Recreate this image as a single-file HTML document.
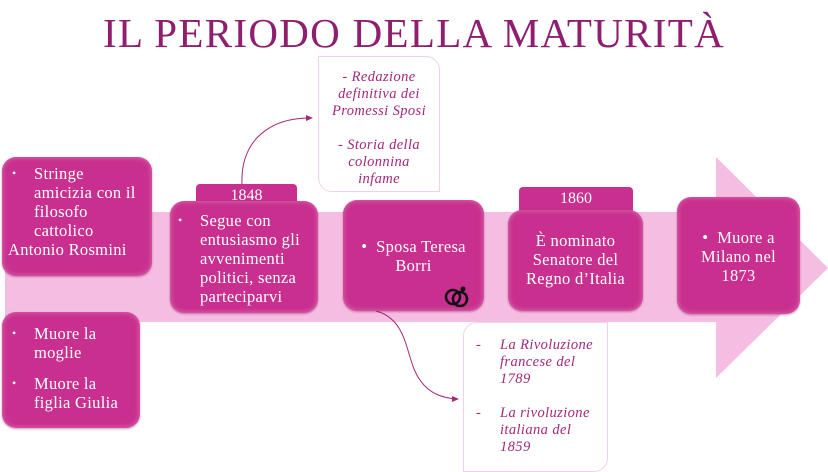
<!DOCTYPE html>
<html><head><meta charset="utf-8"><style>
body{margin:0;width:828px;height:466px;background:#fff;position:relative;overflow:hidden;font-family:"Liberation Serif",serif}
.t{position:absolute;left:0;width:828px;top:9px;text-align:center;font-size:41px;color:#8f1f6e;letter-spacing:1.3px}
.b{position:absolute;background:#c82f8e;border-radius:14px;color:#fff;font-size:16.5px;line-height:19px;letter-spacing:0.3px;white-space:nowrap;box-shadow:inset 0 0 6px rgba(255,255,255,.35),0 1px 2px rgba(120,0,70,.4)}
.tab{position:absolute;background:#c82f8e;border-radius:4px 4px 0 0;color:#fff;font-size:16px;text-align:center;line-height:24px}
.c{position:absolute;border:1px solid #f2d3e6;color:#a3287a;font-style:italic;font-size:14.5px;line-height:17px;letter-spacing:0.4px;background:#fff;white-space:nowrap}
ul{margin:0;padding:0;list-style:none}
li{position:relative;padding-left:22px}
li:before{content:"•";position:absolute;left:6px;font-size:12px}
</style></head><body>
<svg width="828" height="466" style="position:absolute;left:0;top:0">
<polygon points="5,212 716,212 716,157 828,268 716,378 716,322 5,322" fill="#f6bde2"/>
<path d="M242,185 C240,140 270,118 310,118" fill="none" stroke="#a3287a" stroke-width="1"/>
<polygon points="313,118 306,115 306,121" fill="#a3287a"/>
<path d="M376,311 C410,320 405,360 420,380 C430,395 445,398 456,399" fill="none" stroke="#a3287a" stroke-width="1"/>
<polygon points="459,399 452,396 452,402" fill="#a3287a"/>
</svg>
<div class="t">IL PERIODO DELLA MATURITÀ</div>
<div class="c" style="left:318px;top:56px;width:122px;height:136px;border-radius:0 14px 0 14px;text-align:center;padding-top:12px;box-sizing:border-box">- Redazione<br>definitiva dei<br>Promessi Sposi<br><br>- Storia della<br>colonnina<br>infame</div>
<div class="c" style="left:463px;top:322px;width:145px;height:150px;border-radius:14px 0 14px 0;padding:14px 0 0 12px;box-sizing:border-box">
<div style="display:flex"><span style="width:24px">-</span><span>La Rivoluzione<br>francese del<br>1789</span></div><br>
<div style="display:flex"><span style="width:24px">-</span><span>La rivoluzione<br>italiana del<br>1859</span></div></div>
<div class="b" style="left:2px;top:157px;width:150px;height:119px;padding:7px 4px;box-sizing:border-box"><ul><li style="padding-left:28px">Stringe<br>amicizia con il<br>filosofo<br>cattolico</li></ul><div style="padding-left:2px">Antonio Rosmini</div></div>
<div class="b" style="left:2px;top:312px;width:138px;height:116px;padding:12px 4px;box-sizing:border-box"><ul><li style="padding-left:28px">Muore la<br>moglie</li><li style="margin-top:12px;padding-left:28px">Muore la<br>figlia Giulia</li></ul></div>
<div class="tab" style="left:196px;top:184px;width:101px;height:30px">1848</div>
<div class="b" style="left:170px;top:201px;width:148px;height:112px;padding:10px 2px;box-sizing:border-box"><ul><li style="padding-left:28px">Segue con<br>entusiasmo gli<br>avvenimenti<br>politici, senza<br>parteciparvi</li></ul></div>
<div class="b" style="left:343px;top:200px;width:141px;height:111px;padding-top:37px;box-sizing:border-box;text-align:center">• &nbsp;Sposa Teresa<br>Borri
<svg width="30" height="26" style="position:absolute;right:12px;bottom:2px"><circle cx="11" cy="14" r="7" fill="none" stroke="#111" stroke-width="2.5"/><circle cx="18" cy="16" r="7" fill="none" stroke="#111" stroke-width="2.5"/><circle cx="21" cy="6" r="2.5" fill="#111"/></svg></div>
<div class="tab" style="left:519px;top:187px;width:114px;height:30px">1860</div>
<div class="b" style="left:508px;top:210px;width:135px;height:101px;padding-top:21px;box-sizing:border-box;text-align:center">È nominato<br>Senatore del<br>Regno d’Italia</div>
<div class="b" style="left:677px;top:197px;width:123px;height:117px;padding-top:31px;box-sizing:border-box;text-align:center">• &nbsp;Muore a<br>Milano nel<br>1873</div>
</body></html>
